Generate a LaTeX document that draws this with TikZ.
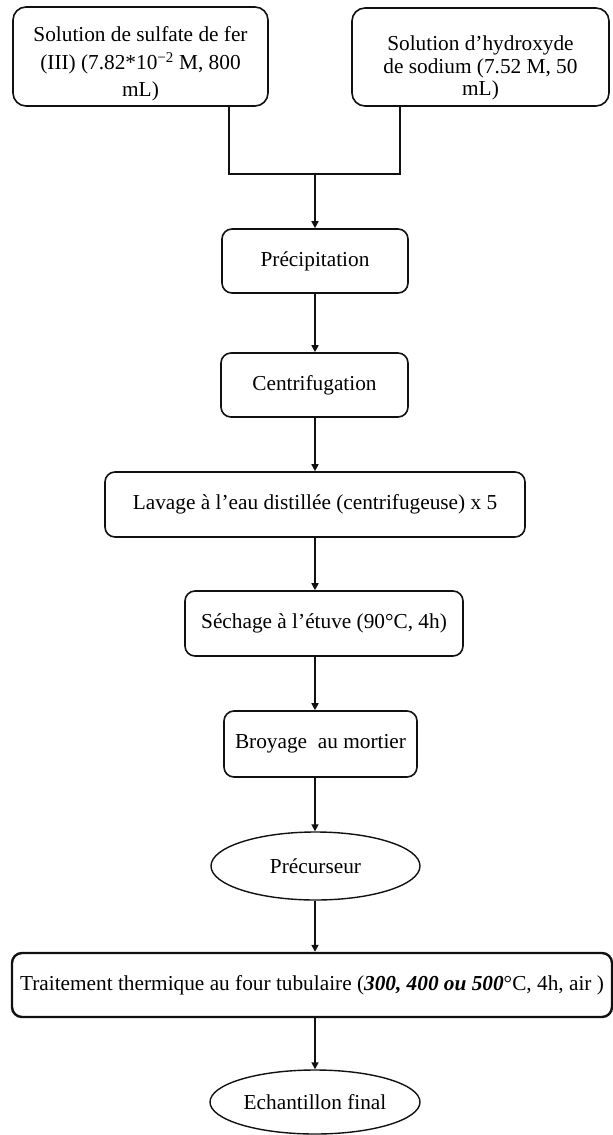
\documentclass[tikz,border=0pt]{standalone}
\usepackage{fontspec}
\setmainfont{Liberation Serif}
\usetikzlibrary{arrows.meta,positioning,calc,shapes.geometric}
\definecolor{Ink}{HTML}{111111}

\newcommand{\stepfont}{\fontsize{21.3}{28.5}\selectfont}
\newcommand{\lift}[1]{\rule{0pt}{#1}}

\tikzset{
  stepbox/.style={draw=Ink,line width=1.6pt,rounded corners=10pt,inner sep=0pt,align=center,font=\stepfont},
  inputbox/.style={stepbox,rounded corners=13pt},
  stateell/.style={draw=Ink,line width=1.4pt,ellipse,inner sep=0pt,align=center,font=\stepfont},
  flow/.style={-{Triangle[length=7pt,width=7pt]},Ink,line width=1.6pt},
  link/.style={Ink,line width=1.6pt}
}

\begin{document}
\begin{tikzpicture}[x=1pt,y=-1pt]
\useasboundingbox (0,0) rectangle (613,1135);
% inputs
\node[inputbox,minimum width=255pt,minimum height=99pt] (sulfate) at (140.5,56.5)
  {\lift{29pt}Solution de sulfate de fer\\(III) (7.82*10\textsuperscript{−2} M, 800\\[-2pt]mL)};
\node[inputbox,minimum width=257pt,minimum height=98pt] (soude) at (480.5,57)
  {\lift{37pt}Solution d'hydroxyde\\[-6pt]de sodium (7.52 M, 50\\[-6pt]mL)};
% steps
\node[stepbox,minimum width=186pt,minimum height=64pt] (precip) at (315,261) {Précipitation};
\node[stepbox,minimum width=187pt,minimum height=64pt] (centri) at (314.5,385) {Centrifugation};
\node[stepbox,minimum width=420pt,minimum height=65pt] (lavage) at (315,504.5) {Lavage à l'eau distillée (centrifugeuse) x 5};
\node[stepbox,minimum width=278pt,minimum height=65pt] (sechage) at (324,623.5) {Séchage à l'étuve (90°C, 4h)};
\node[stepbox,minimum width=193pt,minimum height=66pt] (broyage) at (320.5,744) {Broyage~ au mortier};
\node[stateell,minimum width=209pt,minimum height=68pt] (precurseur) at (315.5,866) {Précurseur};
\node[stepbox,line width=2.4pt,minimum width=600pt,minimum height=64pt] (traitement) at (312,985)
  {Traitement thermique au four tubulaire (\textbf{\textit{300, 400 ou 500}}°C, 4h, air )};
\node[stateell,minimum width=210pt,minimum height=64pt] (echantillon) at (315,1102) {Echantillon final};
% junction
\coordinate (jL) at (229,174);
\coordinate (jR) at (400,174);
\coordinate (jM) at (315,174);
\draw[link] (sulfate.south -| jL) -- (jL) -- (jR) -- (soude.south -| jR);
\draw[flow] (jM) -- (precip.north -| jM);
\draw[flow] (precip.south -| jM) -- (centri.north -| jM);
\draw[flow] (centri.south -| jM) -- (lavage.north -| jM);
\draw[flow] (lavage.south -| jM) -- (sechage.north -| jM);
\draw[flow] (sechage.south -| jM) -- (broyage.north -| jM);
\draw[flow] (broyage.south -| jM) -- (precurseur.north -| jM);
\draw[flow] (precurseur.south -| jM) -- (traitement.north -| jM);
\draw[flow] (traitement.south -| jM) -- (echantillon.north -| jM);
\end{tikzpicture}
\end{document}
